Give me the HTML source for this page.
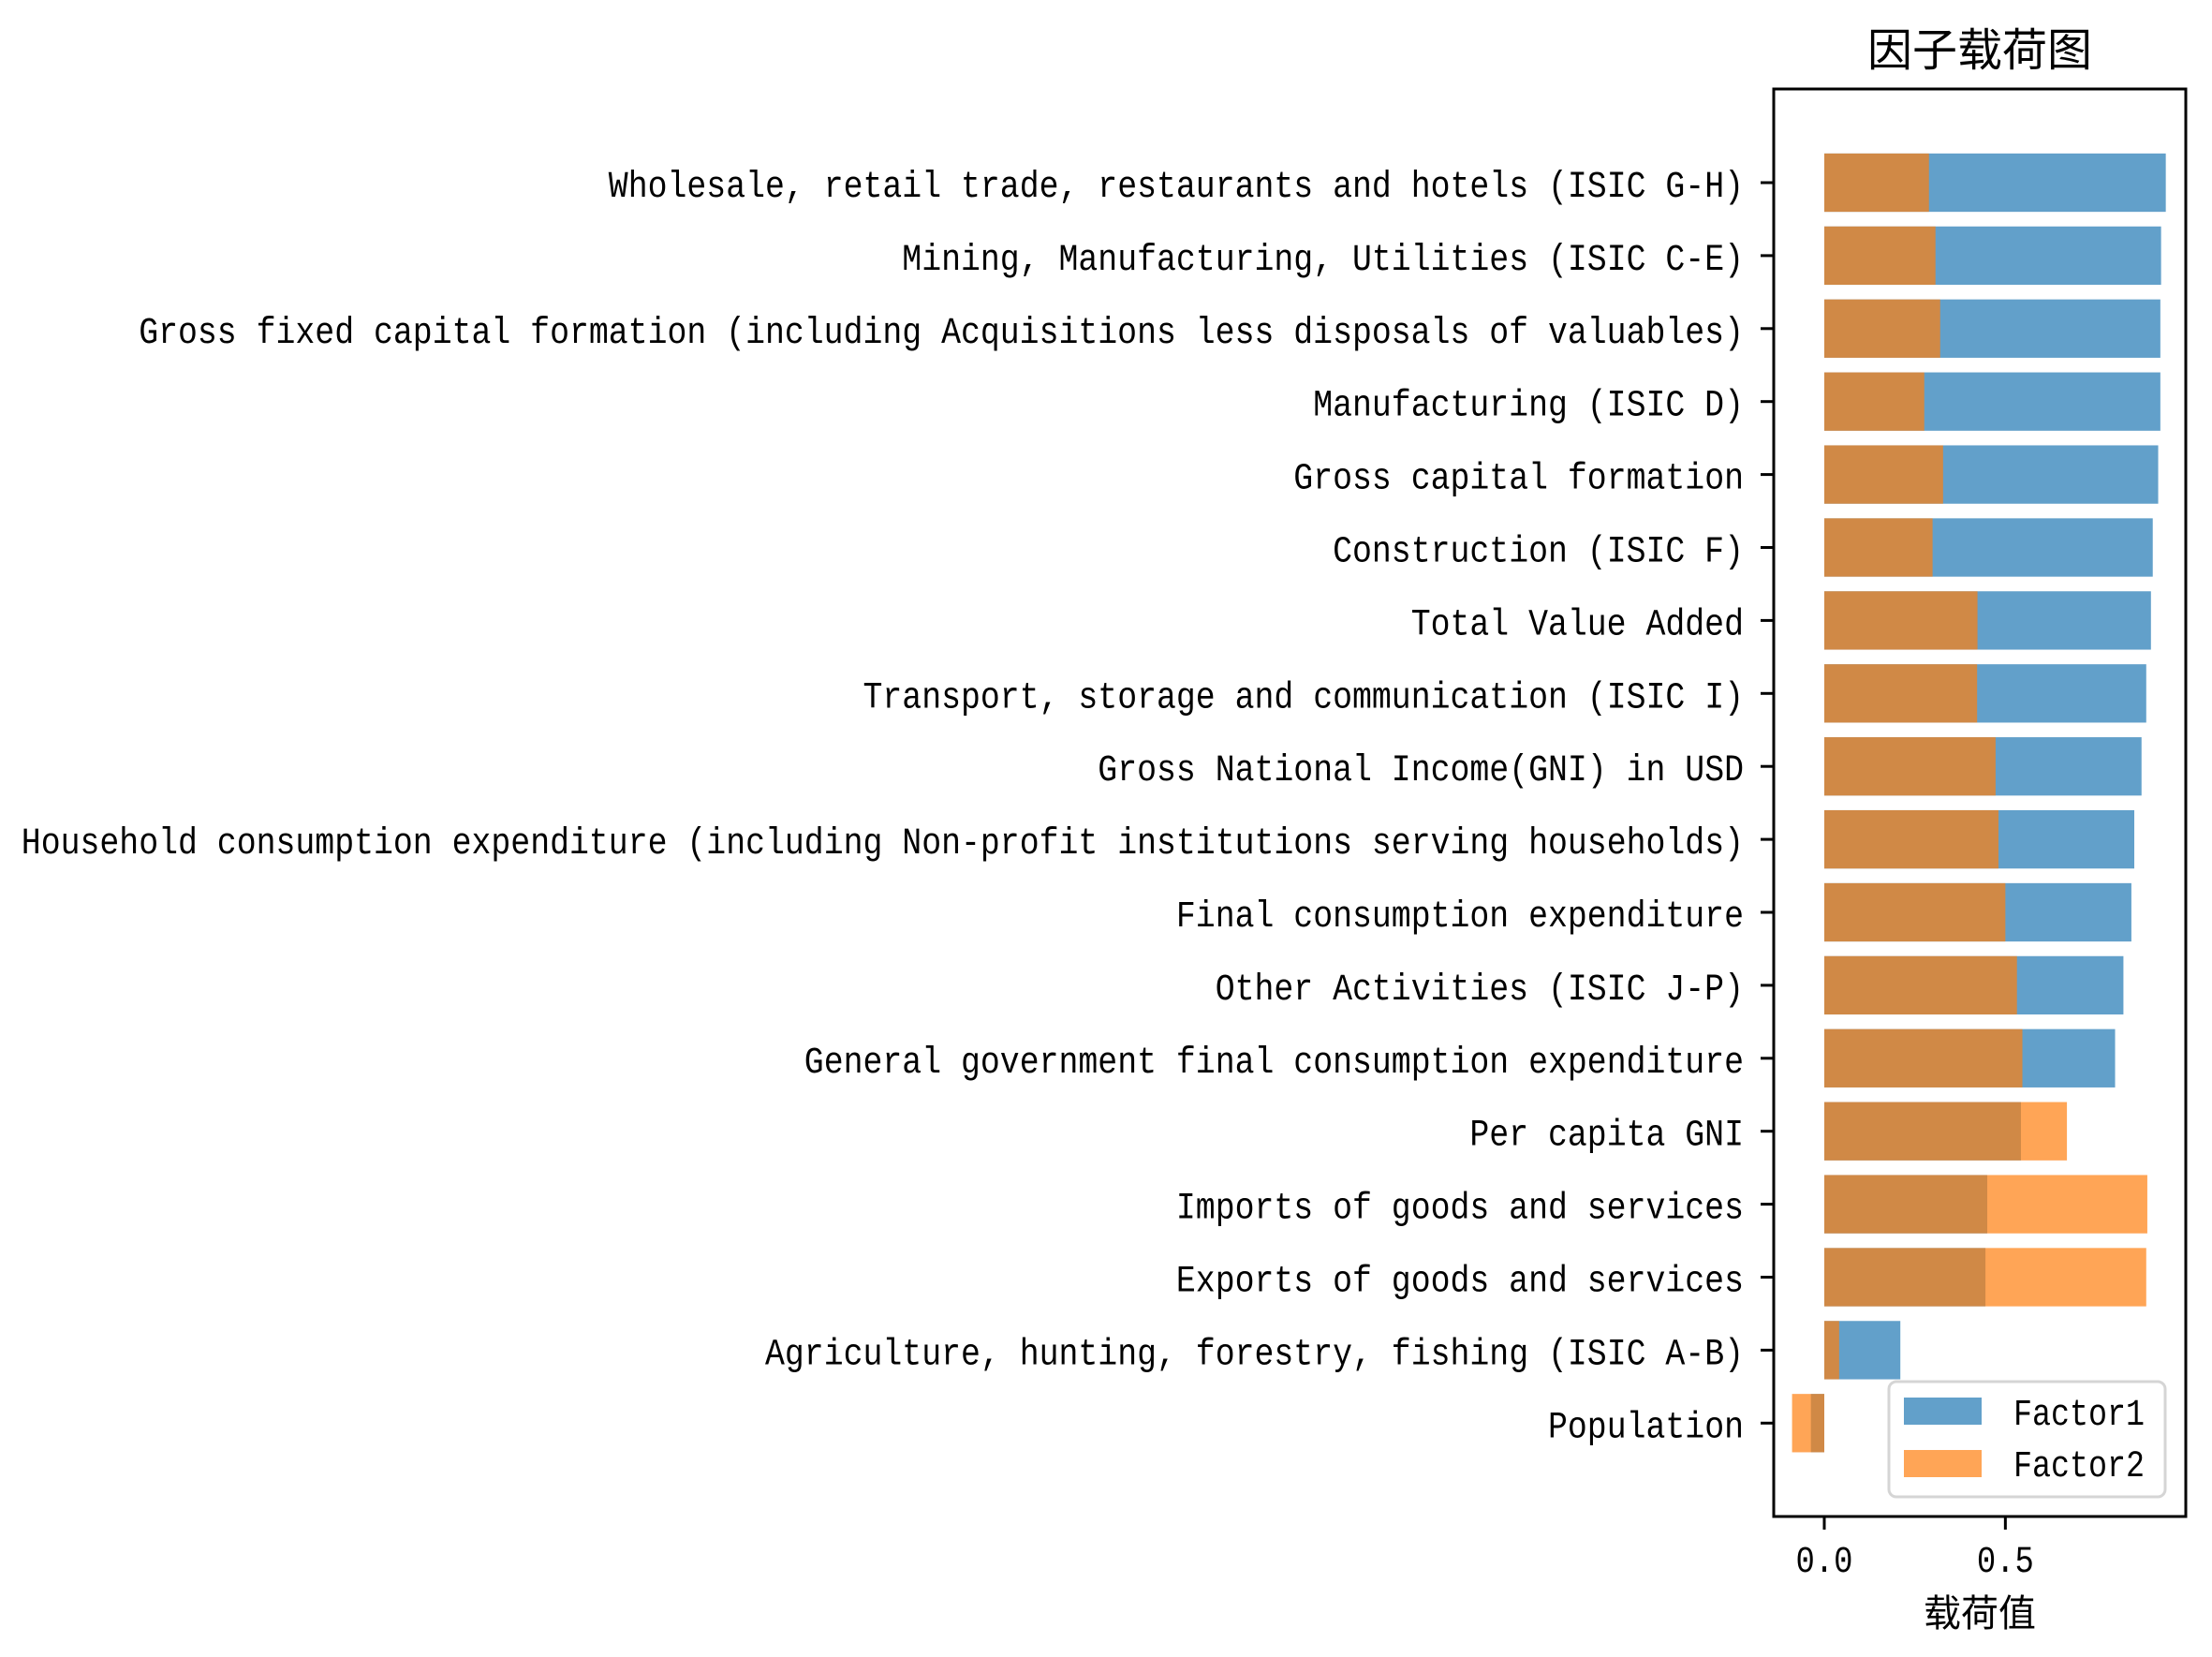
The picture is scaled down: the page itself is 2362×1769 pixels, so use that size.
<!DOCTYPE html>
<html><head><meta charset="utf-8"><style>
html,body{margin:0;padding:0;background:#fff;}
svg{display:block;}
text{font-family:"Liberation Mono","Noto Sans CJK SC",monospace;fill:#000;}
.cjk{font-family:"Liberation Sans","Noto Sans CJK SC",sans-serif;}
</style></head><body>
<svg id="chart" width="2362" height="1769" viewBox="0 0 2362 1769" xmlns="http://www.w3.org/2000/svg">
<rect width="2362" height="1769" fill="#fff"/>
<text class="cjk" x="2114" y="70" font-size="48" text-anchor="middle">因子载荷图</text>
<g id="bars"></g>
<g id="yticks"></g>
<g id="xticks"></g>
<rect x="1894" y="95" width="440" height="1524" fill="none" stroke="#000" stroke-width="3"/>
<text class="cjk" x="2114" y="1736" font-size="40" text-anchor="middle">载荷值</text>
<g>
<rect x="2017" y="1475" width="295" height="123" rx="8" fill="#fff" fill-opacity="0.8" stroke="#d5d5d5" stroke-width="3"/>
<rect x="2033" y="1492" width="83" height="29" fill="#1f77b4" fill-opacity="0.7"/>
<text x="2150" y="1521" font-size="40" textLength="140" lengthAdjust="spacingAndGlyphs">Factor1</text>
<rect x="2033" y="1548" width="83" height="29" fill="#ff7f0e" fill-opacity="0.7"/>
<text x="2150" y="1576" font-size="40" textLength="140" lengthAdjust="spacingAndGlyphs">Factor2</text>
</g>
</svg>
<script>
const categories = [
"Wholesale, retail trade, restaurants and hotels (ISIC G-H)",
"Mining, Manufacturing, Utilities (ISIC C-E)",
"Gross fixed capital formation (including Acquisitions less disposals of valuables)",
"Manufacturing (ISIC D)",
"Gross capital formation",
"Construction (ISIC F)",
"Total Value Added",
"Transport, storage and communication (ISIC I)",
"Gross National Income(GNI) in USD",
"Household consumption expenditure (including Non-profit institutions serving households)",
"Final consumption expenditure",
"Other Activities (ISIC J-P)",
"General government final consumption expenditure",
"Per capita GNI",
"Imports of goods and services",
"Exports of goods and services",
"Agriculture, hunting, forestry, fishing (ISIC A-B)",
"Population"
];
const factor1 = [0.943,0.930,0.928,0.928,0.922,0.907,0.902,0.889,0.876,0.856,0.848,0.826,0.803,0.543,0.450,0.445,0.210,-0.037];
const factor2 = [0.289,0.307,0.320,0.276,0.328,0.299,0.423,0.422,0.473,0.481,0.500,0.532,0.547,0.670,0.892,0.889,0.041,-0.089];
const xTicks = [0.0, 0.5];
const xTickLabels = ["0.0","0.5"];

const NS = "http://www.w3.org/2000/svg";
const x0px = 1948, unit = 386.7;
function xs(v){ return x0px + v*unit; }
const yStart = 195, step = 77.9, barH = 62.3;
function ys(i){ return yStart + i*step; }

const bars = document.getElementById('bars');
const yt = document.getElementById('yticks');
const xt = document.getElementById('xticks');

function addBar(i, v, color, name){
  const r = document.createElementNS(NS,'rect');
  const a = xs(0), b = xs(v);
  r.setAttribute('x', Math.min(a,b));
  r.setAttribute('width', Math.abs(b-a));
  r.setAttribute('y', ys(i)-barH/2);
  r.setAttribute('height', barH);
  r.setAttribute('fill', color);
  r.setAttribute('fill-opacity', '0.7');
  
  
  bars.appendChild(r);
}
categories.forEach((c,i)=>{ addBar(i, factor1[i], '#1f77b4', 'bar-factor1-'+(i+1)); });
categories.forEach((c,i)=>{ addBar(i, factor2[i], '#ff7f0e', 'bar-factor2-'+(i+1)); });

categories.forEach((c,i)=>{
  const y = ys(i);
  const l = document.createElementNS(NS,'line');
  l.setAttribute('x1',1880); l.setAttribute('x2',1894);
  l.setAttribute('y1',y); l.setAttribute('y2',y);
  l.setAttribute('stroke','#000'); l.setAttribute('stroke-width','3');
  
  
  yt.appendChild(l);
  const t = document.createElementNS(NS,'text');
  t.setAttribute('x',1862); t.setAttribute('y',y+15);
  t.setAttribute('font-size','40');
  t.setAttribute('text-anchor','end');
  t.setAttribute('textLength', (c.length*20.9).toFixed(1));
  t.setAttribute('lengthAdjust','spacingAndGlyphs');
  
  
  t.textContent = c;
  yt.appendChild(t);
});

xTicks.forEach((v,i)=>{
  const x = xs(v);
  const l = document.createElementNS(NS,'line');
  l.setAttribute('x1',x); l.setAttribute('x2',x);
  l.setAttribute('y1',1619); l.setAttribute('y2',1633);
  l.setAttribute('stroke','#000'); l.setAttribute('stroke-width','3');
  
  
  xt.appendChild(l);
  const t = document.createElementNS(NS,'text');
  t.setAttribute('x',x); t.setAttribute('y',1678);
  t.setAttribute('font-size','40');
  t.setAttribute('text-anchor','middle');
  t.setAttribute('textLength','61');
  t.setAttribute('lengthAdjust','spacingAndGlyphs');
  
  
  t.textContent = xTickLabels[i];
  xt.appendChild(t);
});
</script>
</body></html>
